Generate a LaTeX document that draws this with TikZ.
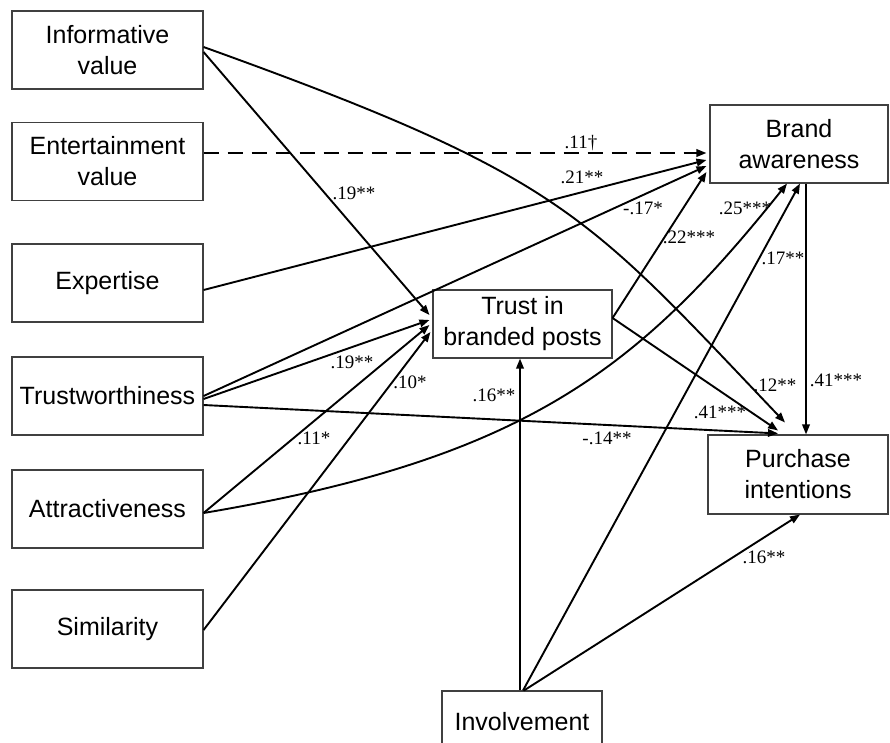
\documentclass[tikz,border=0pt]{standalone}
\usepackage{fontspec}
\setmainfont{Liberation Serif}
\newfontfamily\boxfont{Liberation Sans}
\usetikzlibrary{arrows.meta,calc}
\begin{document}
\begin{tikzpicture}[x=1pt,y=-1pt,
  box/.style={draw=black!75, line width=1.1pt, minimum width=191pt, minimum height=78pt, inner sep=0pt, align=center, font=\boxfont\fontsize{25}{31}\selectfont},
  conn/.style={line width=1.9pt, -{Triangle[length=10pt,width=7.5pt]}},
  lbl/.style={font=\fontsize{19}{20}\selectfont, inner sep=0pt}]
\useasboundingbox (0,0) rectangle (890,742);
% boxes
\node[box] (info) at (107.5,50) {Informative\\value};
\node[box] (ent) at (107.5,161.5) {Entertainment\\value};
\node[box] (exp) at (107.5,283) {Expertise};
\node[box] (trw) at (107.5,396) {Trustworthiness};
\node[box] (att) at (107.5,509) {Attractiveness};
\node[box] (sim) at (107.5,629) {Similarity};
\node[box, minimum width=179pt, minimum height=68pt] (trust) at (522.5,324) {Trust in\\branded posts};
\node[box, minimum width=178pt] (brand) at (799,144) {Brand\\awareness};
\node[box, minimum width=180pt, minimum height=79pt] (purch) at (798,474.5) {Purchase\\intentions};
\node[box, minimum width=160pt, minimum height=62pt] (inv) at (522,722) {Involvement};
% connectors
\draw[conn] ($(info.east)+(0,2)$) -- ($(trust.west)+(-3,-9)$);
\draw[conn] ($(info.east)+(0,-3)$) .. controls +(360,129.5) and +(-200,-210) .. ($(purch.north)+(-13,-12)$);
\draw[conn, dash pattern=on 15pt off 9pt] ($(ent.east)+(0,-8.5)$) -- ($(brand.west)+(-3,9)$);
\draw[conn] ($(exp.east)+(0,7)$) -- ($(brand.west)+(-3,16)$);
\draw[conn] (trw.east) -- ($(brand.west)+(-3,22)$);
\draw[conn] ($(trw.east)+(0,3)$) -- ($(trust.west)+(-3,-4)$);
\draw[conn] ($(trw.east)+(0,9)$) -- ($(purch.north)+(-20,-1)$);
\draw[conn] ($(att.east)+(0,4)$) -- ($(trust.west)+(-3,1)$);
\draw[conn] ($(att.east)+(0,4)$) .. controls +(320,-54) and +(-150,187.5) .. ($(brand.south)+(-12,0)$);
\draw[conn] ($(sim.east)+(0,1)$) -- ($(trust.west)+(-2,8)$);
\draw[conn] ($(trust.east)+(0,-6)$) -- ($(brand.west)+(-3,28)$);
\draw[conn] ($(trust.east)+(0,-6)$) -- ($(purch.north)+(-20,-4)$);
\draw[conn] ($(inv.north)+(-2,0)$) -- ($(trust.south)+(-2.5,0)$);
\draw[conn] ($(inv.north)+(1,0)$) -- ($(brand.south)+(1,0)$);
\draw[conn] ($(inv.north)+(2,0)$) -- ($(purch.south)+(2,0)$);
\draw[conn] ($(brand.south)+(7,0)$) -- ($(purch.north)+(8,0)$);
% labels
\node[lbl] (l1) at (354,193) {.19**};
\node[lbl] (l2) at (581,143) {.11\textdagger};
\node[lbl] (l3) at (582,177) {.21**};
\node[lbl] (l4) at (643,208) {-.17*};
\node[lbl] (l5) at (689,237) {.22***};
\node[lbl] (l6) at (745,208) {.25***};
\node[lbl] (l7) at (783,258) {.17**};
\node[lbl] (l8) at (352,362) {.19**};
\node[lbl] (l9) at (410,382) {.10*};
\node[lbl] (l10) at (314,438) {.11*};
\node[lbl] (l11) at (494,395) {.16**};
\node[lbl] (l12) at (720,412) {.41***};
\node[lbl] (l13) at (775,385) {.12**};
\node[lbl] (l14) at (607,438) {-.14**};
\node[lbl] (l15) at (836,380) {.41***};
\node[lbl] (l16) at (764,557) {.16**};
\end{tikzpicture}
\end{document}
